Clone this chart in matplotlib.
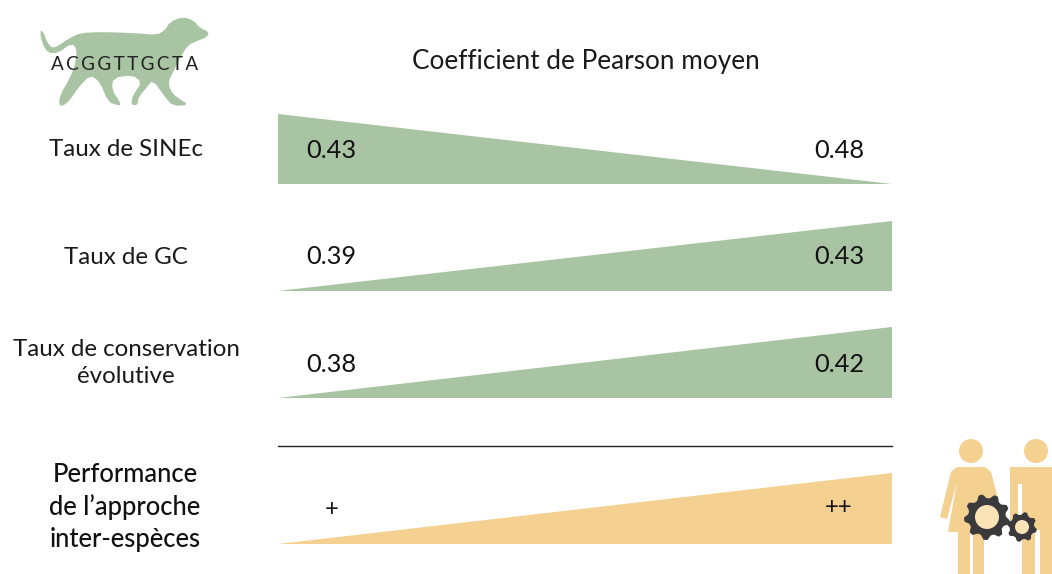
import numpy as np
import matplotlib
matplotlib.use("Agg")
import matplotlib.pyplot as plt
from matplotlib.patches import Polygon, Circle

row_labels = ["Taux de SINEc", "Taux de GC", "Taux de conservation\névolutive"]
low_values = ["0.43", "0.39", "0.38"]
high_values = ["0.48", "0.43", "0.42"]
perf_label = "Performance\nde l’approche\ninter-espèces"
perf_values = ["+", "++"]
dna = "ACGGTTGCTA"
title = "Coefficient de Pearson moyen"

GREEN = "#a8c4a3"
ORANGE = "#f5d191"
DARK = "#3a3a3c"

dog = [(40, 31), (43, 31), (47, 42), (52, 48), (58, 46), (68, 39), (80, 33), (100, 32), (133, 33),
       (157, 35), (165, 30), (170, 22), (182, 17), (193, 20), (200, 28), (209, 32), (207, 37), (197, 41),
       (188, 45), (180, 58), (173, 72), (168, 83), (172, 93), (178, 98), (189, 105), (173, 106), (165, 97),
       (153, 80), (147, 87), (138, 98), (138, 105), (131, 105), (133, 95), (142, 82), (132, 75),
       (113, 78), (112, 90), (120, 102), (120, 106), (108, 102), (100, 82), (90, 75), (78, 88), (70, 100),
       (63, 106), (59, 105), (60, 95), (70, 78), (75, 65), (77, 50), (72, 43), (58, 53), (48, 53), (42, 43)]


def smooth(pts, passes=1):
	# corner cutting so the outline does not look faceted
	pts = np.array(pts, dtype=float)
	for _ in range(passes):
		nxt = np.roll(pts, -1, axis=0)
		pts = np.c_[0.75 * pts + 0.25 * nxt, 0.25 * pts + 0.75 * nxt].reshape(-1, 2)
	return pts


def wedge(ax, y_base, height, rising, color):
	# triangle sitting on y_base, thick end on the right if rising
	x0, x1 = 278, 892
	if rising:
		pts = [(x0, y_base), (x1, y_base - height), (x1, y_base)]
	else:
		pts = [(x0, y_base - height), (x0, y_base), (x1, y_base)]
	ax.add_patch(Polygon(pts, closed=True, fc=color, ec="none"))


def gear(ax, cx, cy, r, hole, teeth):
	ang = np.linspace(0, 2 * np.pi, teeth * 4, endpoint=False) + 0.15
	rad = np.tile([r, r, r * 0.82, r * 0.82], teeth)
	ax.add_patch(Polygon(np.c_[cx + rad * np.cos(ang), cy + rad * np.sin(ang)], closed=True, fc=DARK, ec="none", zorder=5))
	ax.add_patch(Circle((cx, cy), hole, fc="#fbe3b8", ec="none", zorder=6))


def person(ax, cx, woman=False):
	ax.add_patch(Circle((cx, 451), 12, fc=ORANGE, ec="none"))
	if woman:
		body = [(cx - 14, 467), (cx + 14, 467), (cx + 20, 472), (cx + 30, 510), (cx + 30, 532), (cx + 13, 532),
				(cx + 13, 574), (cx + 2, 574), (cx + 2, 534), (cx - 1, 534),
				(cx - 1, 574), (cx - 13, 574), (cx - 13, 532), (cx - 23, 532), (cx - 14, 482), (cx - 24, 519),
				(cx - 31, 517), (cx - 20, 472)]
	else:
		body = [(cx - 26, 467), (cx + 24, 467), (cx + 24, 574), (cx + 4, 574), (cx + 4, 530), (cx - 1, 530),
				(cx - 1, 574), (cx - 14, 574), (cx - 14, 484), (cx - 18, 484), (cx - 18, 520), (cx - 26, 520)]
	ax.add_patch(Polygon(body, closed=True, fc=ORANGE, ec="none"))


def main():
	plt.rcParams["font.family"] = ["Lato", "DejaVu Sans"]
	fig = plt.figure(figsize=(10.52, 5.74), dpi=100)
	ax = fig.add_axes([0, 0, 1, 1])
	ax.set_xlim(0, 1052)
	ax.set_ylim(574, 0)
	ax.axis("off")

	ax.add_patch(Polygon(smooth(dog), closed=True, fc=GREEN, ec="none"))
	ax.text(125, 64, "\u2009".join(dna), ha="center", va="center", fontsize=13.6, color="#222222")
	ax.text(586, 62, title, ha="center", va="center", fontsize=18.8, color="#1a1a1a")

	wedge(ax, 184, 70, False, GREEN)
	wedge(ax, 291, 70, True, GREEN)
	wedge(ax, 398, 71, True, GREEN)
	wedge(ax, 544, 71, True, ORANGE)
	ax.plot([278, 892], [446, 446], color="#222222", lw=1)

	for label, y in zip(row_labels, [149, 257, 363]):
		ax.text(126, y, label, ha="center", va="center", fontsize=17.4, color="#1a1a1a", linespacing=1.32)
	for lo, hi, y in zip(low_values, high_values, [150, 257, 364]):
		ax.text(306, y, lo, ha="left", va="center", fontsize=18.3, color="#111111")
		ax.text(814, y, hi, ha="left", va="center", fontsize=18.3, color="#111111")

	ax.text(125, 507, perf_label, ha="center", va="center", fontsize=18.4, fontweight="medium", color="#111111", linespacing=1.37)
	ax.text(332, 509, perf_values[0], ha="center", va="center", fontsize=17, color="#111111")
	ax.text(838, 507, perf_values[1], ha="center", va="center", fontsize=17, color="#111111")

	person(ax, 971, woman=True)
	person(ax, 1036)
	gear(ax, 987, 517, 23, 12, 9)
	gear(ax, 1022, 527, 15, 7, 8)

	fig.savefig("out.png", dpi=100)


if __name__ == '__main__':
	main()
